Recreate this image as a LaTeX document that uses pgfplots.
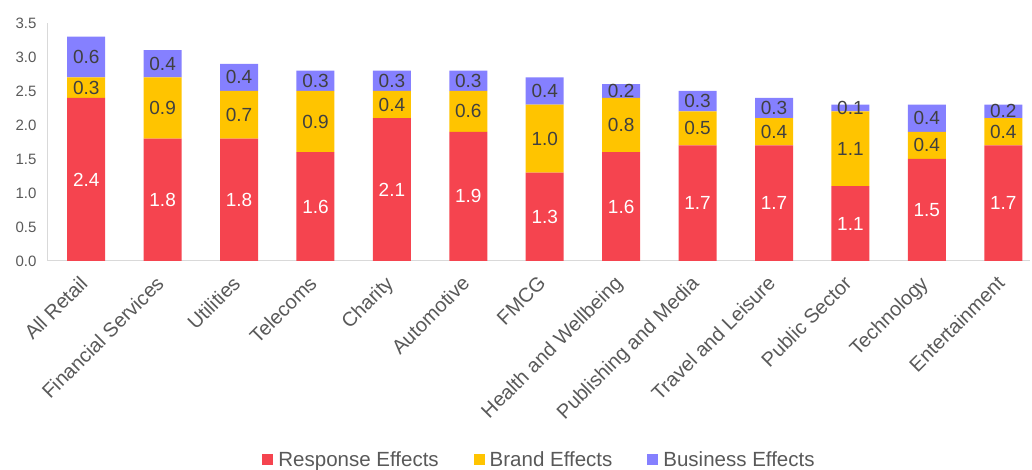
\documentclass[border=0pt]{standalone}
\usepackage{fontspec}
\setmainfont{Liberation Sans}
\usepackage{pgfplots}
\pgfplotsset{compat=1.18}
\usepackage{pgfplotstable}
\definecolor{cR}{HTML}{F5444F}
\definecolor{cB}{HTML}{FFC400}
\definecolor{cS}{HTML}{8580FF}
\definecolor{tickgray}{HTML}{595959}
\definecolor{valgray}{HTML}{404040}
\definecolor{axgray}{HTML}{D9D9D9}
\pgfplotstableread[col sep=comma]{
x,r,b,s
0,2.4,0.3,0.6
1,1.8,0.9,0.4
2,1.8,0.7,0.4
3,1.6,0.9,0.3
4,2.1,0.4,0.3
5,1.9,0.6,0.3
6,1.3,1.0,0.4
7,1.6,0.8,0.2
8,1.7,0.5,0.3
9,1.7,0.4,0.3
10,1.1,1.1,0.1
11,1.5,0.4,0.4
12,1.7,0.4,0.2
}\data
\begin{document}
\begin{tikzpicture}
\begin{axis}[
  at={(0,0)}, anchor=south west,
  scale only axis, width=982pt, height=238pt,
  xmin=-0.5, xmax=12.35, ymin=0, ymax=3.5,
  ybar stacked, bar width=38pt,
  ytick={0,0.5,...,3.5},
  xtick={0,...,12},
  xticklabels={All Retail,Financial Services,Utilities,Telecoms,Charity,Automotive,FMCG,Health and Wellbeing,Publishing and Media,Travel and Leisure,Public Sector,Technology,Entertainment},
  xticklabel style={rotate=45, anchor=north east, font=\fontsize{20}{20}\selectfont, text=tickgray, inner sep=1pt, yshift=-3pt, xshift=-14pt},
  yticklabel style={font=\fontsize{15}{15}\selectfont, text=tickgray, xshift=-8pt, /pgf/number format/.cd, fixed, fixed zerofill, precision=1, assume math mode=true},
  axis lines*=left, axis line style={draw=axgray, line width=1pt},
  major tick length=0pt,
  every axis plot/.append style={draw=none},
  nodes near coords={\pgfmathprintnumber[fixed,fixed zerofill,precision=1,assume math mode=true]{\pgfplotspointmeta}},
  point meta=explicit,
  legend columns=-1,
  legend style={at={(0.5,-0.836)}, anchor=center, draw=none, font=\fontsize{20.5}{20.5}\selectfont, text=tickgray,
    nodes={inner sep=1pt},
    /tikz/every odd column/.append style={column sep=4pt},
    /tikz/every even column/.append style={column sep=34pt}},
  legend image code/.code={\fill[#1] (0pt,-5.5pt) rectangle (11pt,5.5pt);},
]
\addplot[fill=cR,
  every node near coord/.append style={anchor=center, text=white, font=\fontsize{19}{19}\selectfont}]
  table[x=x, y=r, meta=r]{\data};
\addplot[fill=cB,
  every node near coord/.append style={anchor=center, text=valgray, font=\fontsize{19}{19}\selectfont}]
  table[x=x, y=b, meta=b]{\data};
\addplot[fill=cS,
  every node near coord/.append style={anchor=center, text=valgray, font=\fontsize{19}{19}\selectfont}]
  table[x=x, y=s, meta=s]{\data};
\legend{Response Effects, Brand Effects, Business Effects}
\end{axis}
\pgfresetboundingbox
\path[use as bounding box] (-48pt,-209pt) rectangle (984pt,261pt);
\end{tikzpicture}
\end{document}
